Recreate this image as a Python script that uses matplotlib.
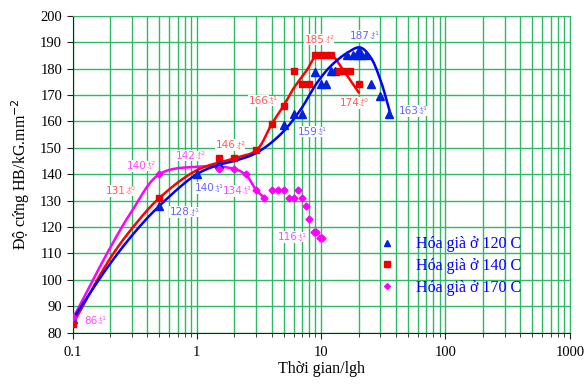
import numpy as np
import matplotlib.pyplot as plt
from matplotlib.ticker import LogLocator, FixedLocator, FixedFormatter, NullFormatter

# measured points (time h, hardness HB)
t120 = [0.1, 0.5, 1, 1.5, 5, 6, 7, 9, 10, 11, 12, 13, 16, 18, 19.5, 20, 21, 23, 25, 30, 35]
hb120 = [85, 128, 140, 143.7, 158.6, 162.7, 162.7, 178.8, 174, 174, 179, 179, 185, 185, 185, 187, 185, 185, 174, 169.6, 162.7]

t140 = [0.1, 0.5, 1.5, 2, 3, 4, 5, 6, 7, 8, 9, 10, 11, 12, 14, 15, 17, 20]
hb140 = [83.3, 131, 146, 146, 149.3, 158.9, 166, 179, 174, 174, 185, 185, 185, 185, 179, 179, 179, 174]

t170 = [0.1, 0.5, 1.5, 2, 2.5, 3, 3.5, 4, 4.5, 5, 5.5, 6, 6.5, 7, 7.5, 8, 8.7, 9.1, 9.8, 10.2]
hb170 = [86, 140, 142, 142, 140, 134, 131, 134, 134, 134, 131, 131, 134, 131, 128, 123, 118, 118, 116, 116]

# trend curves (nodes)
fit120_t = [0.1, 0.2, 0.33, 0.5, 1, 1.5, 2, 3, 4.7, 6.8, 9.2, 11.8, 16, 20.5, 24.8, 30, 36]
fit120_hb = [85, 106, 119, 128, 140, 143.5, 145, 148, 155, 164.3, 174.4, 180.7, 185.8, 188, 184.5, 175.6, 163]
fit140_t = [0.1, 0.2, 0.32, 0.5, 1, 2, 3, 4, 5, 6, 7.7, 9, 10.5, 12.2, 15, 20]
fit140_hb = [83, 108, 121, 131, 141.5, 146, 149, 159, 166, 172.5, 179.5, 184.5, 185.5, 185, 179.5, 171]
fit170_t = [0.1, 0.2, 0.3, 0.5, 1, 2, 2.5, 3, 3.5]
fit170_hb = [85, 112, 126, 140, 142.8, 142, 139.5, 134, 131]

# value labels: (x, y, value, plus, minus, series)
labels = [
    (7.43, 191, "185", "+2", "-1", "r"),
    (17.1, 192.4, "187", "+1", "-2", "b"),
    (2.6, 167.8, "166", "+1", "-1", "r"),
    (14.0, 167, "174", "+0", "-1", "r"),
    (41.9, 164, "163", "+1", "-2", "b"),
    (6.45, 156.1, "159", "+1", "-2", "b"),
    (1.43, 151, "146", "+2", "-1", "r"),
    (0.68, 147, "142", "+2", "-1", "m"),
    (0.273, 143.2, "140", "+2", "-1", "m"),
    (0.186, 133.7, "131", "+0", "-0", "r"),
    (0.957, 134.7, "140", "+1", "-1", "b"),
    (1.62, 133.7, "134", "+1", "-1", "m"),
    (0.61, 125.6, "128", "+1", "-1", "b"),
    (4.45, 116.1, "116", "+1", "-2", "m"),
    (0.124, 84.5, "86", "+1", "-2", "m"),
]
label_colors = {"r": "#ff5a5a", "b": "#6464ff", "m": "#ff4cff"}


def smooth(xs, ys, n=40):
    """centripetal Catmull-Rom through the nodes (log-x, scaled roughly like the screen)"""
    P = np.column_stack([np.log10(xs) * 124.0, np.asarray(ys, float) * 2.64])
    P = np.vstack([2 * P[0] - P[1], P, 2 * P[-1] - P[-2]])
    out = []
    for i in range(1, len(P) - 2):
        p0, p1, p2, p3 = P[i - 1], P[i], P[i + 1], P[i + 2]
        t0 = 0.0
        t1 = t0 + np.linalg.norm(p1 - p0) ** 0.5
        t2 = t1 + np.linalg.norm(p2 - p1) ** 0.5
        t3 = t2 + np.linalg.norm(p3 - p2) ** 0.5
        t = np.linspace(t1, t2, n, endpoint=False)[:, None]
        a1 = (t1 - t) / (t1 - t0) * p0 + (t - t0) / (t1 - t0) * p1
        a2 = (t2 - t) / (t2 - t1) * p1 + (t - t1) / (t2 - t1) * p2
        a3 = (t3 - t) / (t3 - t2) * p2 + (t - t2) / (t3 - t2) * p3
        b1 = (t2 - t) / (t2 - t0) * a1 + (t - t0) / (t2 - t0) * a2
        b2 = (t3 - t) / (t3 - t1) * a2 + (t - t1) / (t3 - t1) * a3
        out.append((t2 - t) / (t2 - t1) * b1 + (t - t1) / (t2 - t1) * b2)
    out.append(P[-2][None, :])
    C = np.vstack(out)
    return 10 ** (C[:, 0] / 124.0), C[:, 1] / 2.64


plt.rcParams["font.family"] = ["Liberation Serif", "DejaVu Serif"]
fig = plt.figure(figsize=(5.85, 3.84), dpi=100)
ax = fig.add_axes([0.124, 0.134, 0.850, 0.825])

grid_c = "#2dba62"
ax.set_xscale("log")
ax.set_xlim(0.1, 1000)
ax.set_ylim(80, 200)
ax.set_yticks(np.arange(80, 201, 10))
ax.xaxis.set_major_locator(FixedLocator([0.1, 1, 10, 100, 1000]))
ax.xaxis.set_major_formatter(FixedFormatter(["0.1", "1", "10", "100", "1000"]))
ax.xaxis.set_minor_locator(LogLocator(base=10, subs=np.arange(2, 10)))
ax.xaxis.set_minor_formatter(NullFormatter())
ax.grid(True, which="both", axis="x", color=grid_c, lw=1.0)
ax.grid(True, which="major", axis="y", color=grid_c, lw=1.0)
ax.set_axisbelow(True)
for s in ("top", "right"):
    ax.spines[s].set_color(grid_c)
for s in ("left", "bottom"):
    ax.spines[s].set_color("#222222")
ax.tick_params(axis="both", which="major", direction="out", length=4, labelsize=10.5, color="#222222")
ax.tick_params(axis="x", which="minor", direction="out", length=3, color="#222222")
ax.tick_params(axis="x", pad=6)

# trend curves
for ft, fh, c in ((fit170_t, fit170_hb, "#ff00ff"),
                  (fit140_t, fit140_hb, "#ff0000"),
                  (fit120_t, fit120_hb, "#0000ff")):
    sx, sy = smooth(ft, fh)
    ax.plot(sx, sy, color=c, lw=1.8, zorder=3)

ax.plot(t120, hb120, ls="none", marker="^", ms=5.5, color="#0022dd", zorder=4, label="Hóa già ở 120 C")
ax.plot(t140, hb140, ls="none", marker="s", ms=5, color="#ee0000", zorder=4, label="Hóa già ở 140 C")
ax.plot(t170, hb170, ls="none", marker="D", ms=3.5, color="#ff00ff", zorder=4, label="Hóa già ở 170 C")

# value labels with +/- deviations
for x, y, v, p, m, k in labels:
    c = label_colors[k]
    ax.text(x, y, v, color=c, fontsize=7.5, family="DejaVu Sans", ha="left", va="center",
            bbox=dict(facecolor="white", edgecolor="none", pad=0.6), zorder=5)
    ax.annotate(p + "\n" + m, xy=(x, y), xycoords="data", xytext=(len(v) * 4.6 + 0.5, 0),
                textcoords="offset points", color=c, fontsize=4.3, family="DejaVu Sans",
                ha="left", va="center", linespacing=0.8,
                bbox=dict(facecolor="white", edgecolor="none", pad=0.3), zorder=5)

leg = ax.legend(loc="upper left", bbox_to_anchor=(0.604, 0.324), frameon=False, fontsize=11.5,
                handlelength=1.0, handletextpad=1.3, labelspacing=0.36, borderaxespad=0,
                markerscale=0.85)
for txt in leg.get_texts():
    txt.set_color("#0000ff")

ax.set_xlabel("Thời gian/lgh", fontsize=11.5, labelpad=1)
ax.set_ylabel("Độ cứng HB/kG.mm$^{-2}$", fontsize=11.5, labelpad=6)

fig.savefig("out.png", dpi=100, facecolor="white")
